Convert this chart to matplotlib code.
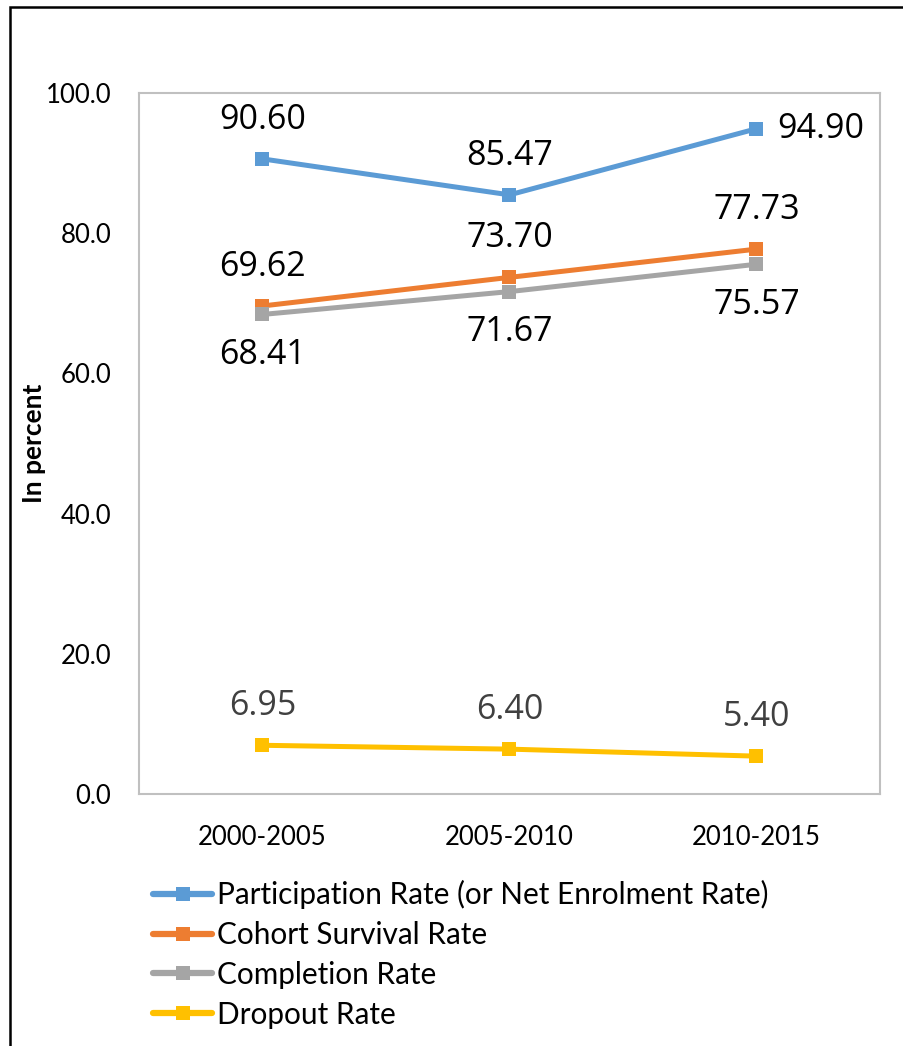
import matplotlib
matplotlib.use("Agg")
import matplotlib.pyplot as plt
from matplotlib.patches import Rectangle

periods = ["2000-2005", "2005-2010", "2010-2015"]
participation = [90.60, 85.47, 94.90]
cohort_survival = [69.62, 73.70, 77.73]
completion = [68.41, 71.67, 75.57]
dropout = [6.95, 6.40, 5.40]

series_names = ["Participation Rate (or Net Enrolment Rate)", "Cohort Survival Rate",
                "Completion Rate", "Dropout Rate"]
series_colors = ["#5B9BD5", "#ED7D31", "#A5A5A5", "#FFC000"]

W, H, DPI = 904, 1046, 100
fig = plt.figure(figsize=(W / DPI, H / DPI), dpi=DPI)

# outer frame of the chart object
fig.patches.append(Rectangle((10 / W, -0.05), 1.1, (H - 7) / H + 0.05, transform=fig.transFigure,
                             fill=False, edgecolor="black", linewidth=1.8))

ax = fig.add_axes([139 / W, (H - 794) / H, (880 - 139) / W, (794 - 93) / H])
x = list(range(len(periods)))

all_series = [participation, cohort_survival, completion, dropout]
for vals, name, col in zip(all_series, series_names, series_colors):
    ax.plot(x, vals, color=col, linewidth=3.6, marker="s", markersize=10.5,
            markeredgewidth=0, label=name, solid_capstyle="round")

lab_font = dict(family="Open Sans", fontsize=24.5)

# participation: above, last one to the right
for i, v in enumerate(participation):
    if i == 2:
        ax.annotate(f"{v:.2f}", (i, v), xytext=(46, 0), textcoords="offset points",
                    ha="center", va="center", color="black", **lab_font)
    else:
        ax.annotate(f"{v:.2f}", (i, v), xytext=(0, 28), textcoords="offset points",
                    ha="center", va="center", color="black", **lab_font)
for i, v in enumerate(cohort_survival):
    ax.annotate(f"{v:.2f}", (i, v), xytext=(0, 28), textcoords="offset points",
                ha="center", va="center", color="black", **lab_font)
for i, v in enumerate(completion):
    ax.annotate(f"{v:.2f}", (i, v), xytext=(0, -29), textcoords="offset points",
                ha="center", va="center", color="black", **lab_font)
for i, v in enumerate(dropout):
    ax.annotate(f"{v:.2f}", (i, v), xytext=(0, 28), textcoords="offset points",
                ha="center", va="center", color="#404040", **lab_font)

ax.set_xlim(-0.5, 2.5)
ax.set_ylim(0, 100)
ax.set_yticks([0, 20, 40, 60, 80, 100])
ax.set_yticklabels([f"{t:.1f}" for t in [0, 20, 40, 60, 80, 100]])
ax.set_xticks(x)
ax.set_xticklabels(periods)
ax.tick_params(axis="both", length=0, labelsize=18.5, colors="black")
ax.tick_params(axis="y", pad=20)
ax.tick_params(axis="x", pad=22)
for lbl in ax.get_xticklabels() + ax.get_yticklabels():
    lbl.set_family("Lato")

for sp in ax.spines.values():
    sp.set_color("#C0C0C0")
    sp.set_linewidth(1.5)

fig.text(34 / W, 1 - 443 / H, "In percent", rotation=90, ha="center", va="center",
         family="Lato", fontweight="bold", fontsize=19)

leg = ax.legend(loc="upper left", bbox_to_anchor=(153 / W, 1 - 880 / H),
                bbox_transform=fig.transFigure, frameon=False,
                prop=dict(family="Lato", size=21.4), handlelength=2.0,
                handletextpad=0.15, labelspacing=0.4, borderpad=0, borderaxespad=0)
for ln in leg.get_lines():
    ln.set_linewidth(4.5)

fig.savefig("out.png", dpi=DPI)
